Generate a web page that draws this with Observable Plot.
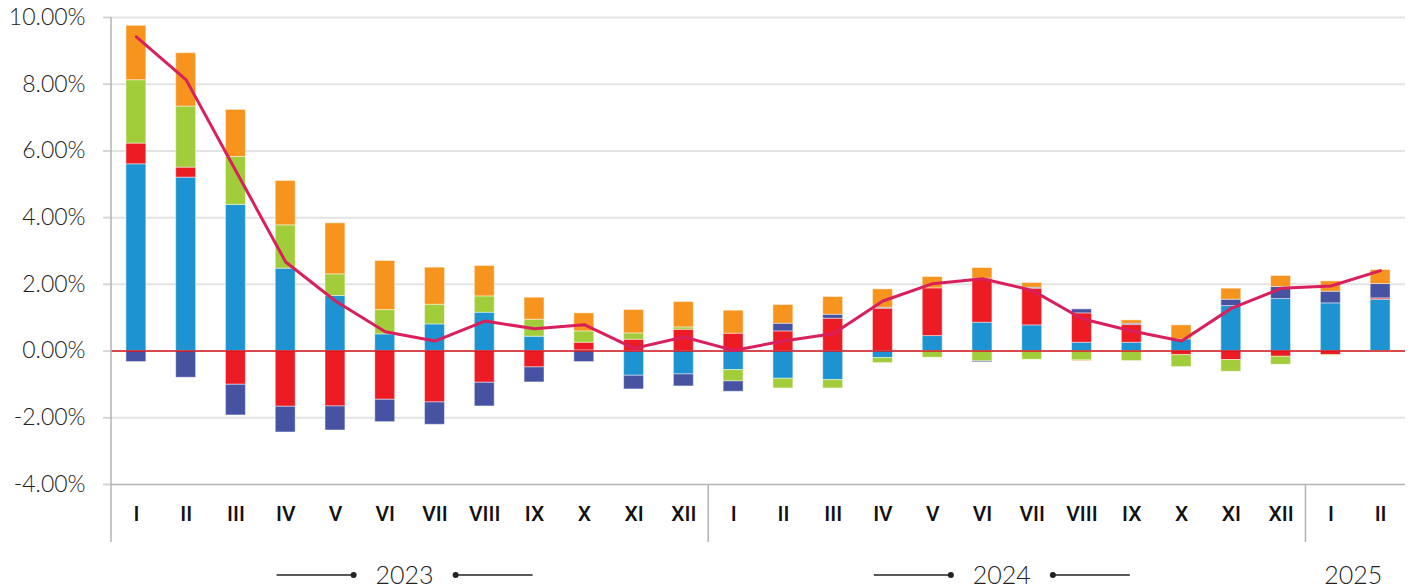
<!DOCTYPE html>
<html>
<head>
<meta charset="utf-8">
<script src="https://cdn.jsdelivr.net/npm/d3@7"></script>
<script src="https://cdn.jsdelivr.net/npm/@observablehq/plot@0.6"></script>
<style>
  html, body { margin: 0; padding: 0; background: #fff; }
  svg { display: block; }
</style>
</head>
<body>
<div id="chart"></div>
<script>
// ---- data (percentage points) ----
const years  = ["2023","2023","2023","2023","2023","2023","2023","2023","2023","2023","2023","2023",
                "2024","2024","2024","2024","2024","2024","2024","2024","2024","2024","2024","2024",
                "2025","2025"];
const months = ["I","II","III","IV","V","VI","VII","VIII","IX","X","XI","XII",
                "I","II","III","IV","V","VI","VII","VIII","IX","X","XI","XII",
                "I","II"];
const seriesNames = ["Series 1","Series 2","Series 3","Series 4","Series 5"];
const seriesColors = ["#1e93d1","#ed1c24","#a2cd3a","#4653a3","#f7941e"];
const s1 = [5.60,5.20,4.38,2.47,1.65,0.50,0.80,1.15,0.43,0.02,-0.74,-0.70,
            -0.57,-0.83,-0.87,-0.21,0.45,0.85,0.77,0.25,0.25,0.35,1.35,1.56,
            1.43,1.54];
const s2 = [0.62,0.30,-1.01,-1.67,-1.66,-1.46,-1.54,-0.95,-0.49,0.23,0.34,0.64,
            0.52,0.59,0.97,1.27,1.43,1.32,1.10,0.88,0.53,-0.12,-0.27,-0.17,
            -0.12,0.04];
const s3 = [1.90,1.83,1.44,1.30,0.65,0.73,0.59,0.49,0.51,0.34,0.19,0.07,
            -0.34,-0.29,-0.25,-0.15,-0.20,-0.31,-0.26,-0.28,-0.30,-0.36,-0.35,-0.24,
            -0.02,-0.02];
const s4 = [-0.33,-0.80,-0.92,-0.77,-0.72,-0.67,-0.67,-0.71,-0.45,-0.33,-0.41,-0.36,
            -0.31,0.23,0.12,0.03,0.00,-0.03,0.03,0.12,0.04,0.00,0.19,0.36,
            0.35,0.43];
const s5 = [1.63,1.60,1.41,1.33,1.53,1.47,1.11,0.91,0.66,0.54,0.70,0.76,
            0.69,0.56,0.53,0.55,0.34,0.32,0.14,-0.02,0.10,0.42,0.33,0.33,
            0.31,0.42];
const total = [9.42,8.13,5.40,2.67,1.50,0.58,0.30,0.90,0.67,0.79,0.08,0.42,
               0.02,0.30,0.52,1.50,2.02,2.17,1.82,0.97,0.60,0.30,1.28,1.88,
               1.95,2.41];
const yTicks = [-4,-2,0,2,4,6,8,10];

// ---- derived tables ----
const keys = months.map((m, i) => years[i] + "-" + m);
const seriesValues = [s1, s2, s3, s4, s5];
const table = [];
seriesValues.forEach((vals, si) => {
  vals.forEach((v, i) => table.push({key: keys[i], series: seriesNames[si], value: v}));
});
const lineData = keys.map((k, i) => ({key: k, value: total[i]}));
const monthOf = k => k.split("-")[1];

const plot = Plot.plot({
  width: 1413,
  height: 588,
  marginLeft: 111,
  marginRight: 8,
  marginTop: 17,
  marginBottom: 104,
  style: {fontFamily: "Lato, 'Open Sans', sans-serif", background: "white", overflow: "visible"},
  x: {domain: keys, paddingInner: 0.6, paddingOuter: 0.3, round: false, axis: null},
  y: {domain: [-4, 10], axis: null},
  color: {domain: seriesNames, range: seriesColors},
  marks: [
    Plot.gridY(yTicks.filter(d => d > -4), {stroke: "#e3e3e3", strokeOpacity: 1, strokeWidth: 2}),
    Plot.ruleY([-4], {stroke: "#b3b3b3", strokeWidth: 1.5}),
    Plot.axisY({ticks: yTicks, label: null, tickSize: 8, tickPadding: 18, stroke: "#d5d5d5", strokeWidth: 2,
                tickFormat: d => d.toFixed(2) + "%", fontSize: 23, fontWeight: 300,
                fontFamily: "Lato, 'Open Sans', sans-serif", fill: "#222"}),
    Plot.barY(table, {x: "key", y: "value", fill: "series", stroke: "#ffffff", strokeOpacity: 0.45, strokeWidth: 1}),
    Plot.ruleY([0], {stroke: "#d4161f", strokeWidth: 1.6}),
    Plot.line(lineData, {x: "key", y: "value", stroke: "#d9205c", strokeWidth: 3}),
    Plot.axisX({label: null, tickSize: 0, tickPadding: 22, tickFormat: monthOf, fontSize: 21, fontWeight: 500,
                fontFamily: "Roboto, sans-serif", fill: "#111"})
  ]
});
document.getElementById("chart").appendChild(plot);

// ---- group separators & year labels from the library scales ----
const svg = d3.select(plot);
const xs = plot.scale("x"), ys = plot.scale("y");
const step = xs.step, bw = xs.bandwidth;
const center = k => xs.apply(k) + bw / 2;
const yBase = ys.apply(-4);
const groups = [];
years.forEach((y, i) => {
  let g = groups.find(d => d.year === y);
  if (!g) { g = {year: y, keys: []}; groups.push(g); }
  g.keys.push(keys[i]);
});
const deco = svg.append("g");
// y axis line
deco.append("line")
  .attr("x1", xs.range[0]).attr("x2", xs.range[0])
  .attr("y1", ys.apply(10)).attr("y2", yBase + 58)
  .attr("stroke", "#b3b3b3").attr("stroke-width", 1.5);
groups.forEach((g, gi) => {
  const left = center(g.keys[0]) - step / 2;
  const right = center(g.keys[g.keys.length - 1]) + step / 2;
  if (gi > 0) {
    deco.append("line")
      .attr("x1", left).attr("x2", left)
      .attr("y1", yBase).attr("y2", yBase + 58)
      .attr("stroke", "#b3b3b3").attr("stroke-width", 1.5);
  }
  const cx = (left + right) / 2 - (g.keys.length > 2 ? 5 : 2);
  const cy = yBase + 91;
  deco.append("text")
    .attr("x", cx).attr("y", cy).attr("dy", "0.35em")
    .attr("text-anchor", "middle")
    .attr("font-size", 25).attr("font-weight", 300)
    .attr("font-family", "Lato, 'Open Sans', sans-serif")
    .attr("fill", "#222")
    .text(g.year);
  if (g.keys.length > 2) {
    [[-128, -51], [51, 128]].forEach(([a, b], j) => {
      deco.append("line")
        .attr("x1", cx + a).attr("x2", cx + b)
        .attr("y1", cy).attr("y2", cy)
        .attr("stroke", "#222").attr("stroke-width", 1.3);
      deco.append("circle")
        .attr("cx", j === 0 ? cx + b : cx + a).attr("cy", cy).attr("r", 3)
        .attr("fill", "#222");
    });
  }
});
</script>
</body>
</html>
